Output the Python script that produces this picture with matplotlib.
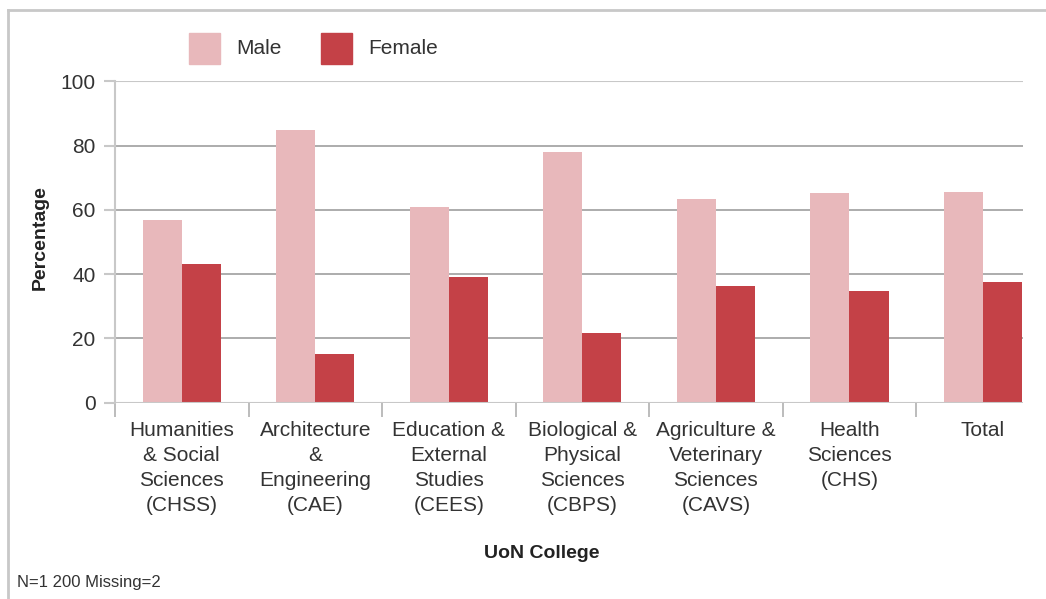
import matplotlib.pyplot as plt
import numpy as np
from matplotlib.lines import Line2D
from matplotlib.patches import Rectangle

plt.rcParams['font.family'] = ['Liberation Sans', 'DejaVu Sans']

# data
colleges = ["Humanities\n& Social\nSciences\n(CHSS)",
            "Architecture\n&\nEngineering\n(CAE)",
            "Education &\nExternal\nStudies\n(CEES)",
            "Biological &\nPhysical\nSciences\n(CBPS)",
            "Agriculture &\nVeterinary\nSciences\n(CAVS)",
            "Health\nSciences\n(CHS)",
            "Total"]
male = [56.8, 84.8, 61.0, 78.1, 63.5, 65.4, 65.6]
female = [43.0, 15.2, 39.2, 21.6, 36.4, 34.6, 37.6]
y_ticks = [0, 20, 40, 60, 80, 100]

MALE_C = "#e8b8bb"
FEMALE_C = "#c44147"
GRID_C = "#a6a6a6"
LIGHT_C = "#c8c8c8"
TEXT_C = "#333333"

W, H = 1046, 599
fig = plt.figure(figsize=(W / 100, H / 100), dpi=100)
ax = fig.add_axes([115 / W, 1 - 402.7 / H, (1023 - 115) / W, (402.7 - 81.3) / H])

x = np.arange(len(colleges))
w = 0.293
ax.bar(x - w / 2, male, w, color=MALE_C, zorder=3, label="Male")
ax.bar(x + w / 2, female, w, color=FEMALE_C, zorder=3, label="Female")

ax.set_xlim(-0.5, 6.3)
ax.set_ylim(0, 100)
ax.set_yticks(y_ticks)
ax.set_yticklabels([str(v) for v in y_ticks], fontsize=15, color=TEXT_C)
for v in y_ticks[1:-1]:
    ax.axhline(v, color=GRID_C, lw=1.3, zorder=1)
ax.axhline(100, color=LIGHT_C, lw=1.5, zorder=1)
ax.axhline(0, color=LIGHT_C, lw=1.5, zorder=4)

for s in ["top", "right", "bottom"]:
    ax.spines[s].set_visible(False)
ax.spines["left"].set_color(LIGHT_C)
ax.spines["left"].set_linewidth(1.5)
ax.tick_params(axis="y", length=8, width=1.5, color=LIGHT_C, pad=6)

# category boundary ticks
ax.set_xticks(np.arange(-0.5, 6.0, 1.0))
ax.set_xticklabels([])
ax.tick_params(axis="x", length=10, width=1.2, color="#b0b0b0")
ax.set_xticks(x, minor=True)
ax.set_xticklabels(colleges, minor=True, fontsize=15, color=TEXT_C, linespacing=1.4)
ax.tick_params(axis="x", which="minor", length=0, pad=13)

fig.text(40 / W, 1 - 238 / H, "Percentage", fontsize=14, fontweight="bold",
         color="#222222", rotation=90, ha="center", va="center")
fig.text(542 / W, 1 - 553 / H, "UoN College", fontsize=14, fontweight="bold",
         color="#222222", ha="center", va="center")
fig.text(17 / W, 1 - 583 / H, "N=1 200 Missing=2", fontsize=12, color=TEXT_C,
         ha="left", va="center")

# legend: squares and labels
for px, label, c in [(189, "Male", MALE_C), (321, "Female", FEMALE_C)]:
    fig.add_artist(Rectangle((px / W, 1 - 64 / H), 31 / W, 31 / H, color=c,
                             transform=fig.transFigure))
    fig.text((px + 47) / W, 1 - 48.5 / H, label, fontsize=15, color=TEXT_C,
             ha="left", va="center")

# partial frame round the figure (left and top only)
fig.add_artist(Line2D([8 / W, 8 / W], [0, 1 - 10 / H], color=LIGHT_C, lw=2,
                      transform=fig.transFigure))
fig.add_artist(Line2D([8 / W, 1], [1 - 10 / H, 1 - 10 / H], color=LIGHT_C, lw=2,
                      transform=fig.transFigure))

fig.savefig("out.png", dpi=100)
